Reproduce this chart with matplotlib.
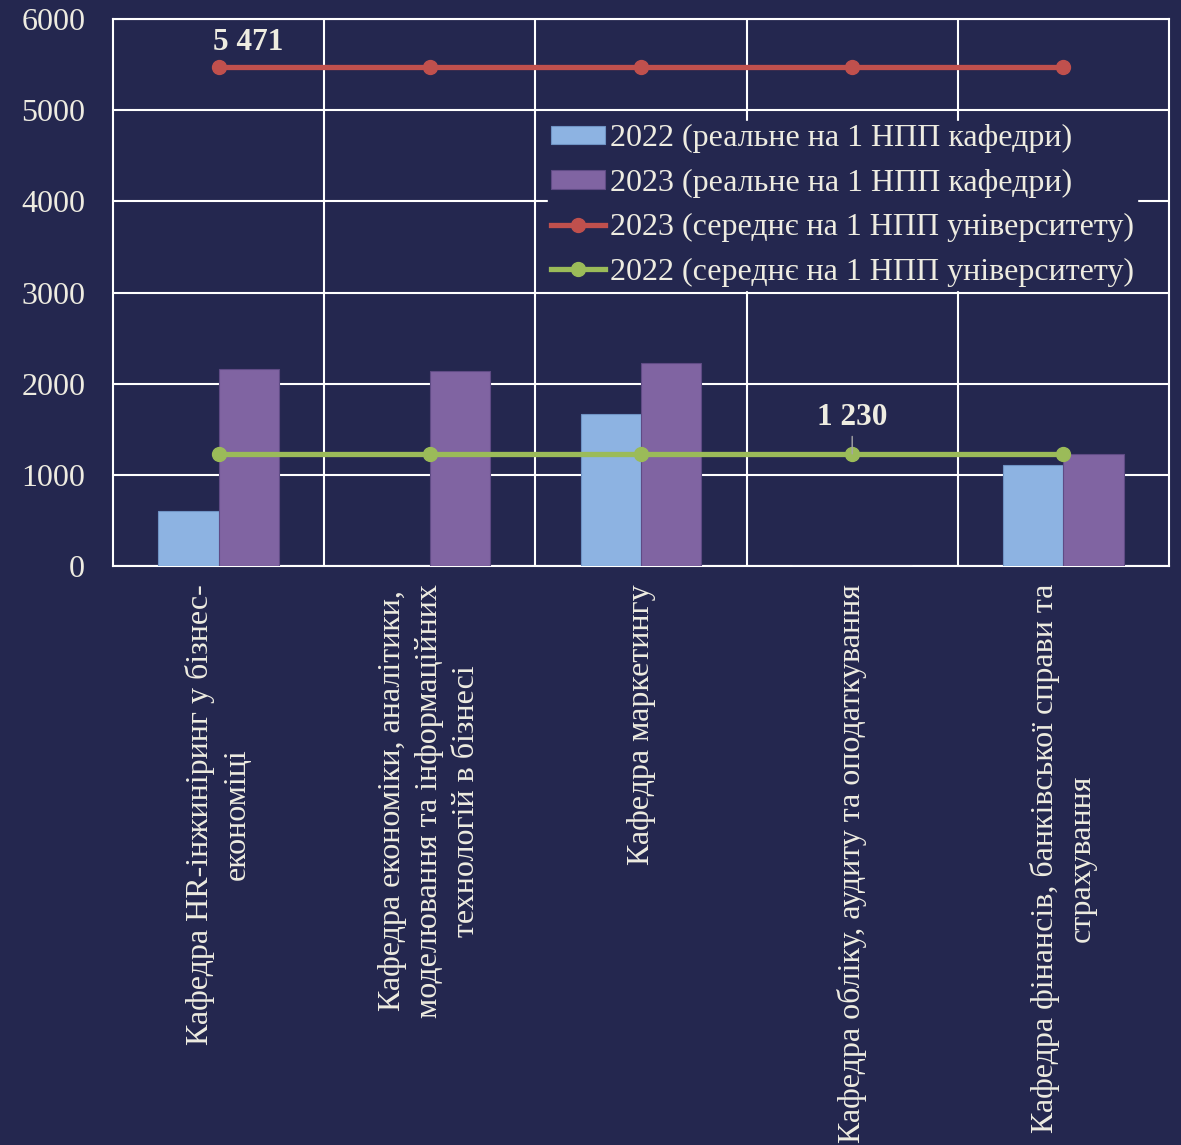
import numpy as np
import matplotlib
matplotlib.use('Agg')
from matplotlib import pyplot as plt

categories = [
    "Кафедра HR-інжиніринг у бізнес-\nекономіці",
    "Кафедра економіки, аналітики,\nмоделювання та інформаційних\nтехнологій в бізнесі",
    "Кафедра маркетингу",
    "Кафедра обліку, аудиту та оподаткування",
    "Кафедра фінансів, банківської справи та\nстрахування",
]
real_2022 = [600, 0, 1665, 0, 1105]
real_2023 = [2160, 2140, 2225, 0, 1230]
avg_2023 = [5471, 5471, 5471, 5471, 5471]
avg_2022 = [1230, 1230, 1230, 1230, 1230]

bg = '#24274F'
fg = '#EEECE1'
plt.rcParams['font.family'] = ['Liberation Serif', 'DejaVu Serif']

fig = plt.figure(figsize=(11.81, 11.45), dpi=100, facecolor=bg)
ax = fig.add_axes([113 / 1181, 1 - 566 / 1145, (1169 - 113) / 1181, (566 - 19) / 1145])
ax.set_facecolor(bg)

x = np.arange(len(categories))
w = 0.285
b1 = ax.bar(x - w / 2, real_2022, w, color='#8DB3E2', edgecolor='#6F93C4', linewidth=0.8,
            label='2022 (реальне на 1 НПП кафедри)', zorder=3)
b2 = ax.bar(x + w / 2, real_2023, w, color='#8064A2', edgecolor='#5F4B85', linewidth=0.8,
            label='2023 (реальне на 1 НПП кафедри)', zorder=3)
l1, = ax.plot(x, avg_2023, color='#C0504D', lw=3.8, marker='o', ms=10,
              label='2023 (середнє на 1 НПП університету)', zorder=4)
l2, = ax.plot(x, avg_2022, color='#9BBB59', lw=3.8, marker='o', ms=10,
              label='2022 (середнє на 1 НПП університету)', zorder=4)

ax.annotate('5 471', (x[0], avg_2023[0]), xytext=(21, 18), textcoords='offset points',
            ha='center', va='center', fontsize=22.5, fontweight='bold', color=fg)
ax.annotate('1 230', (x[3], avg_2022[3]), xytext=(0, 26), textcoords='offset points',
            ha='center', va='center', fontsize=22.5, fontweight='bold', color=fg,
            arrowprops=dict(arrowstyle='-', color='#A6A6A6', lw=1.0, shrinkA=1, shrinkB=0),
            zorder=5)

ax.set_xlim(-0.5, len(categories) - 0.5)
ax.set_ylim(0, 6000)
ax.set_yticks(np.arange(0, 6001, 1000))
ax.set_xticks(x)
ax.set_xticklabels(categories, rotation=90, ha='center', va='top',
                   multialignment='center', fontsize=23, color=fg, linespacing=1.37)
ax.set_xticks(x[:-1] + 0.5, minor=True)
ax.tick_params(axis='y', length=0, labelsize=23, labelcolor=fg, pad=20)
ax.tick_params(axis='x', which='both', length=0, pad=13)
ax.grid(axis='y', color='white', lw=1.5, zorder=0)
ax.grid(axis='x', which='minor', color='white', lw=1.5, zorder=0)
for s in ax.spines.values():
    s.set_color('white')
    s.set_linewidth(1.5)

leg = ax.legend([b1, b2, l1, l2], [h.get_label() for h in (b1, b2, l1, l2)],
                loc='upper left', bbox_to_anchor=(0.4116, 0.8134), frameon=True,
                facecolor=bg, edgecolor=bg, framealpha=1, fontsize=23,
                labelcolor=fg, handlelength=1.7, handleheight=0.5, handletextpad=0.15,
                borderpad=0.1, labelspacing=0.48, borderaxespad=0)
leg.set_zorder(5)

fig.savefig('out.png', dpi=100, facecolor=bg)
